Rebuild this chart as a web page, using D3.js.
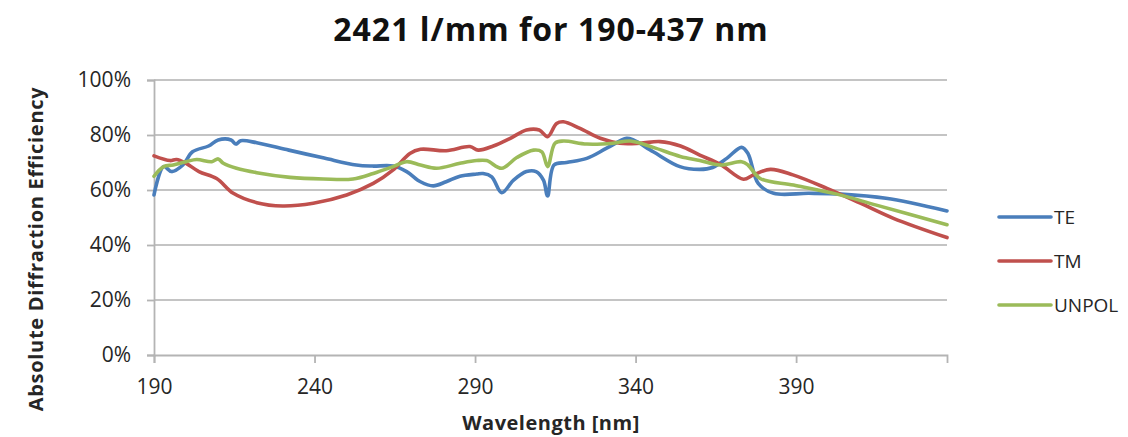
<!DOCTYPE html>
<html><head><meta charset="utf-8">
<script src="https://cdn.jsdelivr.net/npm/d3@7"></script>
<style>
body{margin:0;background:#fff;}
svg{display:block;font-family:"Open Sans",Lato,sans-serif;}
</style></head>
<body><svg id="chart" width="1128" height="437"></svg>
<script>
const titleText = "2421 l/mm for 190-437 nm";
const xTitle = "Wavelength [nm]";
const yTitle = "Absolute Diffraction Efficiency";
const xTicks = [190, 240, 290, 340, 390];
const yTicks = [0, 20, 40, 60, 80, 100];
const seriesNames = ["TE", "TM", "UNPOL"];
const seriesColors = ["#4a7ebb", "#c0504d", "#9bbb59"];

const teWl = [190,193,195.5,199,202,207,210,214,215.5,217,222,232,243,253,258,264.5,268.7,273,277,281,285.3,290.5,292.5,295.2,298.3,302,306,309,311.3,312.6,314.6,318.5,324.8,331,337.2,339.3,345.5,353.8,360,364,368.4,373,375,378.2,383,394,404,418,437];
const teVal = [58.2,68.5,66.7,69.1,73.9,76,78.2,78.2,76.7,77.9,77.2,74.5,71.6,69.1,68.7,68.7,66.7,63,61.5,63,65,65.8,66,64.8,59,63.6,66.7,66.7,63.6,57.8,69.1,70,71.5,75.2,78.8,78.2,73.9,68.5,67.5,68.2,71.5,75.5,73.3,62.4,58.8,58.8,58.5,57,52.4];

const tmWl = [190,195,197,200,204,209.5,214.7,222,230,239.6,250,258.3,264.5,269.7,273,281,288.4,291,295.7,301,306,310,312.6,315.4,317.5,322.7,329,335,341.4,347.6,354,360,366.4,373.6,376.7,382,389,399.6,410,420.3,437];
const tmVal = [72.4,70.7,71.1,69.7,66.7,64.2,58.8,55.4,54.2,55.2,58.2,62.4,67.3,73.3,74.8,74.3,75.8,74.5,76,78.8,81.8,81.8,79.4,84.2,84.8,82.4,78.8,77,77,77.6,76,72.7,69.3,63.9,65.5,67.5,65.5,60.6,55.2,49.7,42.7];

const unWl = [190,193,196,200,203.3,208,210,211.6,215.7,222,232.4,242.7,252,258.3,264.5,268.7,273,278,285.3,290.5,293.6,298.3,303,308.2,310.8,312.6,314.9,317.5,324.8,333,338.3,345.5,353.9,360,366.4,373,375,378.8,389.2,402.7,415,437];
const unVal = [65,68.5,69.1,70.3,71.1,70.3,71.3,69.7,67.9,66.3,64.6,64,64,66,68.5,70.3,69.1,67.9,69.7,70.7,70.7,67.9,71.8,74.5,73.9,68.5,77,77.8,76.7,77,77.8,75.5,72.2,70.7,69.1,70.3,69.1,64.2,61.8,58.5,54.5,47.4];

const series = [
  {name: seriesNames[0], color: seriesColors[0], wl: teWl, val: teVal},
  {name: seriesNames[1], color: seriesColors[1], wl: tmWl, val: tmVal},
  {name: seriesNames[2], color: seriesColors[2], wl: unWl, val: unVal}
];

const svg = d3.select("#chart");
const plotL = 154, plotR = 947, plotT = 80, plotB = 355;
const x = d3.scaleLinear().domain([190, 437]).range([plotL, plotR]);
const y = d3.scaleLinear().domain([0, 100]).range([plotB, plotT]);
const axisGray = "#b4b4b4";

// gridlines
svg.append("g").selectAll("line").data(yTicks.filter(d => d > 0)).join("line")
  .attr("x1", plotL).attr("x2", plotR)
  .attr("y1", d => y(d)).attr("y2", d => y(d))
  .attr("stroke", "#c4c4c4").attr("stroke-width", 1.8);

// y axis
const yAxis = d3.axisLeft(y).tickValues(yTicks).tickFormat(d => d + "%").tickSize(7).tickPadding(16);
const gy = svg.append("g").attr("transform", `translate(${plotL},0)`).call(yAxis);
gy.select(".domain").attr("stroke", axisGray).attr("stroke-width", 1.8);
gy.selectAll(".tick line").attr("stroke", axisGray).attr("stroke-width", 1.8);
gy.selectAll("text").attr("font-size", 21).attr("fill", "#262626").attr("font-family", "Open Sans");

// x axis
const xAxis = d3.axisBottom(x).tickValues(xTicks).tickFormat(d3.format("d")).tickSize(8).tickPadding(16);
const gx = svg.append("g").attr("transform", `translate(0,${plotB})`).call(xAxis);
gx.select(".domain").attr("stroke", axisGray).attr("stroke-width", 1.8);
gx.selectAll(".tick line").attr("stroke", axisGray).attr("stroke-width", 1.8);
gx.selectAll("text").attr("font-size", 21).attr("fill", "#262626").attr("font-family", "Open Sans");

// lines
const line = d3.line().x(d => x(d[0])).y(d => y(d[1])).curve(d3.curveCatmullRom.alpha(0.5));
series.forEach(s => {
  svg.append("path").datum(d3.zip(s.wl, s.val))
    .attr("d", line).attr("fill", "none")
    .attr("stroke", s.color).attr("stroke-width", 3.6)
    .attr("stroke-linejoin", "round").attr("stroke-linecap", "round");
});

// title
svg.append("text").attr("x", 551).attr("y", 41).attr("text-anchor", "middle")
  .attr("font-size", 32).attr("letter-spacing", 1).attr("font-weight", "bold").attr("fill", "#111").text(titleText);

// axis titles
svg.append("text").attr("x", 551).attr("y", 430).attr("text-anchor", "middle")
  .attr("font-size", 20).attr("letter-spacing", 0.5).attr("font-weight", "bold").attr("fill", "#262626").text(xTitle);
svg.append("text").attr("transform", "translate(43,249) rotate(-90)").attr("text-anchor", "middle")
  .attr("font-size", 20).attr("letter-spacing", 0.7).attr("font-weight", "bold").attr("fill", "#262626").text(yTitle);

// legend
const lg = svg.append("g").selectAll("g").data(series).join("g")
  .attr("transform", (d, i) => `translate(999,${217 + i * 44})`);
lg.append("line").attr("x1", 0).attr("x2", 52).attr("y1", 0).attr("y2", 0)
  .attr("stroke", d => d.color).attr("stroke-width", 3.6).attr("stroke-linecap", "round");
lg.append("text").attr("x", 55).attr("y", 6.5).attr("font-size", 19).attr("fill", "#262626").text(d => d.name);
</script></body></html>
